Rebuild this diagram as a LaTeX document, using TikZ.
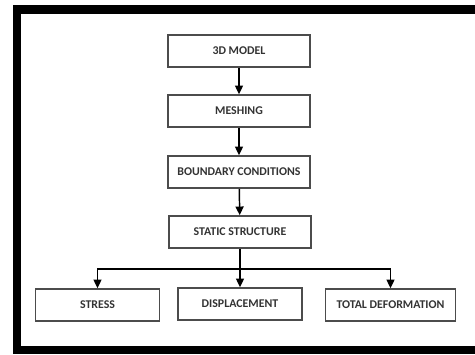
\documentclass[tikz,border=0pt]{standalone}
\usepackage{fontspec}
\setmainfont{Carlito}
\usetikzlibrary{arrows.meta}

\tikzset{
    stepbox/.style={draw=black!70, line width=1.2pt, fill=white, minimum height=24pt,
        inner sep=0pt, font=\bfseries\fontsize{8.9pt}{10pt}\selectfont, text=black!80},
    flow/.style={-{Triangle[width=6pt, length=6.5pt]}, line width=1.1pt}
}

\begin{document}
\begin{tikzpicture}[x=0.75pt, y=-0.75pt]
    \useasboundingbox (0, 0) rectangle (475, 354);
    \draw[line width=6.6pt] (17, 9.5) rectangle (490, 350); % frame

    \node[stepbox, minimum width=106.5pt] (model)  at (239, 51)  {3D MODEL};
    \node[stepbox, minimum width=106.5pt] (mesh)   at (239, 111) {MESHING};
    \node[stepbox, minimum width=106.5pt] (bc)     at (239, 172) {BOUNDARY CONDITIONS};
    \node[stepbox, minimum width=106.5pt] (static) at (240, 232) {STATIC STRUCTURE};

    \node[stepbox, minimum width=93pt]    (stress) at (97.5, 305)  {STRESS};
    \node[stepbox, minimum width=93pt]    (disp)   at (240, 304)   {DISPLACEMENT};
    \node[stepbox, minimum width=97.5pt]  (deform) at (390.5, 305) {TOTAL DEFORMATION};

    \coordinate (split) at (240, 269);

    \draw[flow] (model) -- (mesh);
    \draw[flow] (mesh) -- (bc);
    \draw[flow] (bc) -- (static);
    \draw[line width=1.1pt] (static) -- (split);
    \draw[flow] (split) -| (stress);
    \draw[flow] (split) -- (disp);
    \draw[flow] (split) -| (deform);
\end{tikzpicture}
\end{document}
